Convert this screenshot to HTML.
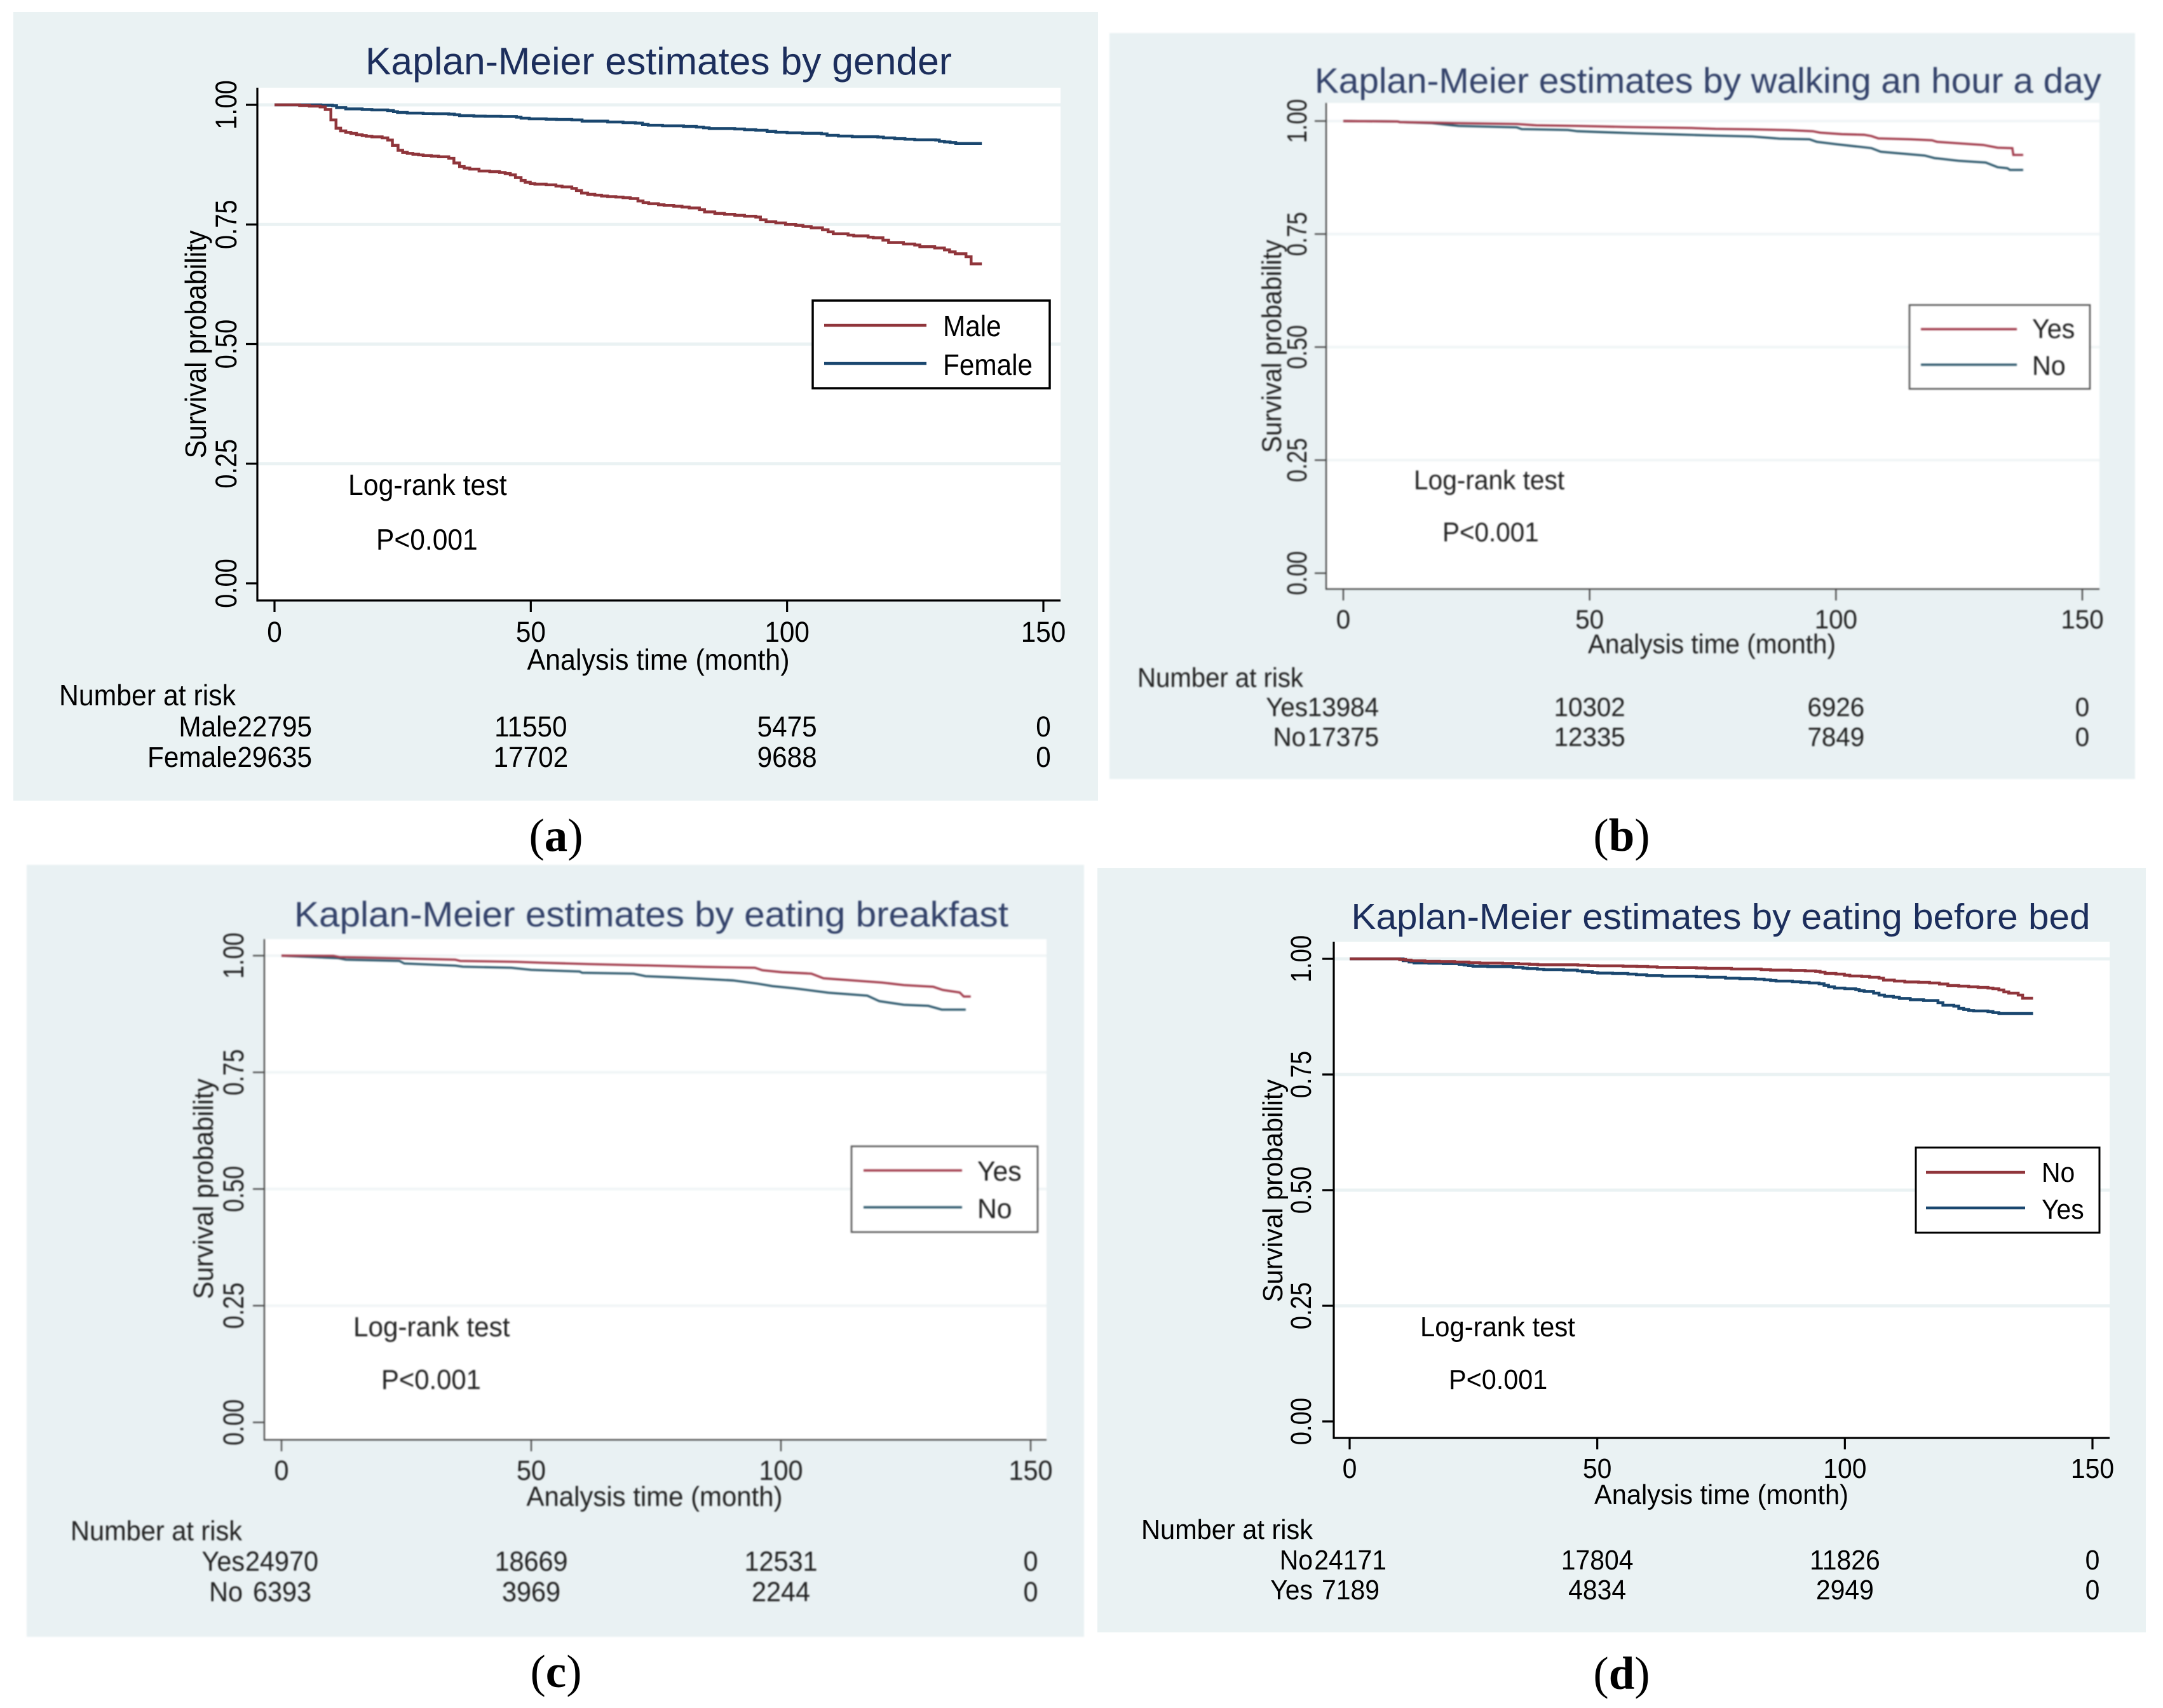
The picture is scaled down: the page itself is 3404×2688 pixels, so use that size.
<!DOCTYPE html>
<html lang="en">
<head>
<meta charset="utf-8">
<title>Kaplan-Meier estimates</title>
<style>
html,body{margin:0;padding:0;background:#fff;}
svg{display:block;}
text{font-family:"Liberation Sans",Arial,sans-serif;}
.cap text,text.cap{font-family:"Liberation Serif",serif;}
.soft{filter:blur(1px);}
</style>
</head>
<body>
<svg id="figure" xmlns="http://www.w3.org/2000/svg" width="3404" height="2688" viewBox="0 0 3404 2688">
<rect x="0" y="0" width="3404" height="2688" fill="#ffffff"/>

<!-- Panel A -->
<g id="panel-a">
  <rect x="21" y="19" width="1707" height="1241" fill="#eaf2f3"/>
  <rect x="405" y="138" width="1264" height="807" fill="#ffffff"/>
  <g id="marks-a"></g>
  <text x="1036.5" y="117" font-size="60" fill="#1c2e5c" text-anchor="middle" textLength="923" lengthAdjust="spacingAndGlyphs">Kaplan-Meier estimates by gender</text>
  <text transform="translate(324 542) rotate(-90) scale(0.93 1)" font-size="46" text-anchor="middle">Survival probability</text>
  <text x="1036" y="1054" font-size="46" text-anchor="middle" textLength="413" lengthAdjust="spacingAndGlyphs">Analysis time (month)</text>
  <text transform="translate(548 779) scale(0.93 1)" font-size="46">Log-rank test</text>
  <text transform="translate(592 865) scale(0.925 1)" font-size="46">P&lt;0.001</text>
  <text x="93" y="1110" font-size="46" textLength="278" lengthAdjust="spacingAndGlyphs">Number at risk</text>
  <g>
    <rect x="1279" y="473" width="373" height="138" fill="#fff" stroke="#000" stroke-width="3.5"/>
    <line x1="1297" x2="1458" y1="512" y2="512" stroke="#90353b" stroke-width="4.5"/>
    <line x1="1297" x2="1458" y1="572" y2="572" stroke="#1a476f" stroke-width="4.5"/>
    <text transform="translate(1484 529) scale(0.92 1)" font-size="46">Male</text>
    <text transform="translate(1484 590) scale(0.92 1)" font-size="46">Female</text>
  </g>
  <text class="cap" x="875" y="1339" font-size="73" text-anchor="middle">(<tspan font-weight="bold">a</tspan>)</text>
</g>

<!-- Panel B -->
<g>
  <text class="cap" x="2552" y="1339" font-size="73" text-anchor="middle">(<tspan font-weight="bold">b</tspan>)</text>
</g>
<g id="panel-b" class="soft">
  <rect x="1746" y="52" width="1614" height="1174" fill="#e9f1f3"/>
  <rect x="2087" y="162" width="1217" height="765" fill="#ffffff"/>
  <g id="marks-b"></g>
  <text x="2688" y="146" font-size="56" fill="#33426a" text-anchor="middle" textLength="1238" lengthAdjust="spacingAndGlyphs">Kaplan-Meier estimates by walking an hour a day</text>
  <text transform="translate(2016 545) rotate(-90) scale(0.93 1)" font-size="43" fill="#222" text-anchor="middle">Survival probability</text>
  <text x="2694" y="1028" font-size="43" fill="#222" text-anchor="middle" textLength="390" lengthAdjust="spacingAndGlyphs">Analysis time (month)</text>
  <text transform="translate(2225 770) scale(0.945 1)" font-size="43" fill="#222">Log-rank test</text>
  <text transform="translate(2270 852) scale(0.94 1)" font-size="43" fill="#222">P&lt;0.001</text>
  <text x="1790" y="1081" font-size="43" fill="#222" textLength="261" lengthAdjust="spacingAndGlyphs">Number at risk</text>
  <g>
    <rect x="3005" y="480" width="284" height="132" fill="#fff" stroke="#555" stroke-width="2.5"/>
    <line x1="3023" x2="3174" y1="518" y2="518" stroke="#a23c4c" stroke-width="3.6"/>
    <line x1="3023" x2="3174" y1="574" y2="574" stroke="#2f5a6e" stroke-width="3.6"/>
    <text transform="translate(3198 532) scale(0.96 1)" font-size="43" fill="#222">Yes</text>
    <text transform="translate(3198 590) scale(0.96 1)" font-size="43" fill="#222">No</text>
  </g>
</g>

<!-- Panel C -->
<g>
  <text class="cap" x="875" y="2655" font-size="73" text-anchor="middle">(<tspan font-weight="bold">c</tspan>)</text>
</g>
<g id="panel-c" class="soft">
  <rect x="42" y="1361" width="1664" height="1215" fill="#e9f1f3"/>
  <rect x="416" y="1478" width="1231" height="788" fill="#ffffff"/>
  <g id="marks-c"></g>
  <text x="1025" y="1458" font-size="56" fill="#33426a" text-anchor="middle" textLength="1124" lengthAdjust="spacingAndGlyphs">Kaplan-Meier estimates by eating breakfast</text>
  <text transform="translate(335 1871) rotate(-90) scale(0.94 1)" font-size="44" fill="#222" text-anchor="middle">Survival probability</text>
  <text x="1030" y="2370" font-size="44" fill="#222" text-anchor="middle" textLength="403" lengthAdjust="spacingAndGlyphs">Analysis time (month)</text>
  <text transform="translate(556 2103) scale(0.96 1)" font-size="44" fill="#222">Log-rank test</text>
  <text transform="translate(600 2186) scale(0.95 1)" font-size="44" fill="#222">P&lt;0.001</text>
  <text x="111" y="2424" font-size="44" fill="#222" textLength="270" lengthAdjust="spacingAndGlyphs">Number at risk</text>
  <g>
    <rect x="1340" y="1804" width="293" height="135" fill="#fff" stroke="#555" stroke-width="2.5"/>
    <line x1="1359" x2="1514" y1="1842" y2="1842" stroke="#a23c4c" stroke-width="3.6"/>
    <line x1="1359" x2="1514" y1="1900" y2="1900" stroke="#2f5a6e" stroke-width="3.6"/>
    <text transform="translate(1538 1858) scale(0.97 1)" font-size="44" fill="#222">Yes</text>
    <text transform="translate(1538 1917) scale(0.97 1)" font-size="44" fill="#222">No</text>
  </g>
</g>

<!-- Panel D -->
<g id="panel-d">
  <rect x="1727" y="1366" width="1650" height="1203" fill="#eaf2f3"/>
  <rect x="2099" y="1482" width="1221" height="781" fill="#ffffff"/>
  <g id="marks-d"></g>
  <text x="2708" y="1462" font-size="57" fill="#1c2e5c" text-anchor="middle" textLength="1163" lengthAdjust="spacingAndGlyphs">Kaplan-Meier estimates by eating before bed</text>
  <text transform="translate(2018 1874) rotate(-90) scale(0.95 1)" font-size="44" text-anchor="middle">Survival probability</text>
  <text x="2709" y="2367" font-size="44" text-anchor="middle" textLength="400" lengthAdjust="spacingAndGlyphs">Analysis time (month)</text>
  <text transform="translate(2235 2103) scale(0.95 1)" font-size="44">Log-rank test</text>
  <text transform="translate(2280 2186) scale(0.94 1)" font-size="44">P&lt;0.001</text>
  <text x="1796" y="2422" font-size="44" textLength="270" lengthAdjust="spacingAndGlyphs">Number at risk</text>
  <g>
    <rect x="3015" y="1806" width="289" height="134" fill="#fff" stroke="#000" stroke-width="3"/>
    <line x1="3031" x2="3187" y1="1845" y2="1845" stroke="#90353b" stroke-width="4.5"/>
    <line x1="3031" x2="3187" y1="1901" y2="1901" stroke="#1a476f" stroke-width="4.5"/>
    <text transform="translate(3213 1860) scale(0.93 1)" font-size="44">No</text>
    <text transform="translate(3213 1918) scale(0.93 1)" font-size="44">Yes</text>
  </g>
  <text class="cap" x="2552" y="2658" font-size="73" text-anchor="middle">(<tspan font-weight="bold">d</tspan>)</text>
</g>
</svg>

<script>
const xTicks = [0, 50, 100, 150];
const yTicks = [0, 0.25, 0.5, 0.75, 1];
const yTickLabels = ['0.00', '0.25', '0.50', '0.75', '1.00'];
const gridValues = [0.25, 0.5, 0.75, 1];

const maleMonths = [0,4.9,6.8,8.9,9.9,11,12,12.9,13.9,14.9,16,17.1,17.9,19,21,22.1,23,24.1,25,25.9,27,28.1,29,30.6,32,34,35,36.1,37,38.1,39.9,42,43.9,45,46,47,48.1,48.9,49.9,50.8,53,54.9,56.1,58,58.9,59.9,61.1,62.5,63.8,65,66.6,68,69.4,70.9,71.9,73,74.9,76,77.9,79.5,80.9,82.9,83.9,85.9,87.8,89.8,91.7,93.9,94.8,95.9,97.8,99.7,101.7,103.1,104.7,106.9,108,109,111.9,113,115.8,116.8,118.7,119.8,122.7,124.9,125.9,128.8,130.7,131.7,132.8,134.9,135.9,138];
const maleSurvival = [1,.9987,.9973,.9956,.9902,.9685,.9512,.9455,.9424,.9402,.9375,.9357,.9344,.9331,.9309,.9264,.9153,.9051,.9007,.8985,.8967,.8954,.8941,.8927,.8914,.8883,.8785,.871,.8679,.8657,.8617,.8604,.8586,.8564,.8537,.848,.8418,.8382,.8355,.8342,.8329,.8302,.8285,.8254,.8209,.8156,.8129,.8112,.8094,.8081,.8072,.8059,.8041,.7992,.7957,.7934,.7912,.7899,.7881,.7863,.7846,.781,.7762,.773,.7713,.7691,.7673,.7655,.7598,.7558,.7531,.75,.7482,.7456,.7429,.7389,.7345,.7305,.7278,.7261,.7234,.7221,.7172,.7123,.7092,.707,.7035,.7008,.6968,.6928,.6888,.6826,.6676,.6676];
const femaleMonths = [0,9.05,11.3,12.1,13.9,17.1,19,22.1,23.2,24,25.9,29,31,34,35.1,36.1,38.9,41.1,44.2,47.2,48.1,49.7,53,55,58,60,65,68,70.4,71.8,72.9,75.7,79.8,82.3,83.7,84.8,89.8,91.7,93.9,96.1,97.8,100,103,106.7,107.8,110,112.7,117.7,118.8,121,123,124.9,129,129.7,130.7,131.8,132.9,138];
const femaleSurvival = [1,.9991,.9982,.9942,.9916,.9902,.9894,.988,.9858,.984,.9827,.9818,.9814,.9805,.9792,.9774,.9765,.9761,.9756,.9743,.9721,.9707,.9699,.9694,.9685,.9659,.9641,.9628,.9619,.9592,.9574,.9561,.9548,.9535,.9521,.9504,.9495,.9481,.9468,.9446,.9428,.9415,.9406,.9393,.9362,.9348,.9335,.9326,.9309,.9295,.9282,.9269,.9264,.9238,.9224,.9211,.9193,.9193];

const walkYesMonths = [0,11,11.5,18,22.9,35.2,39.2,47.5,57.4,70.7,75.6,83,90.4,95.3,96.8,101.2,105.7,107.2,108.6,115.1,119.5,120.5,124.9,129.9,132.8,135.8,136,138];
const walkYesSurvival = [1,.999,.9977,.9963,.9953,.9934,.9906,.9892,.9869,.9846,.9827,.9817,.9799,.9775,.9743,.971,.9696,.9668,.9616,.9597,.9574,.9541,.9508,.9471,.941,.9401,.9251,.9251];
const walkNoMonths = [0,11,11.5,18,23.4,35.2,36.2,45.6,47.5,59.4,67.3,75.6,83,88.5,94.6,96.1,100.3,107.2,109.1,118,120,124.9,130.4,132.8,134.8,135.3,138];
const walkNoSurvival = [1,.999,.9977,.9953,.9892,.986,.9822,.9803,.9775,.9728,.9705,.9677,.9658,.9611,.9597,.9541,.9485,.9401,.9321,.9237,.9181,.912,.9082,.8979,.8956,.8919,.8919];

const breakfastYesMonths = [0,10.4,11.6,16.3,23.6,34.8,35.8,47,51.9,61.7,74.8,84.6,94.8,96.3,100.2,106.1,108.5,120.2,124.6,130.5,132.4,135.8,136.6,138];
const breakfastYesSurvival = [1,.9995,.9968,.9959,.9941,.9914,.9887,.9868,.985,.9819,.9787,.976,.9741,.9687,.9646,.9615,.9515,.9424,.937,.9333,.9265,.9211,.9125,.9125];
const breakfastNoMonths = [0,11.4,12.9,23.6,24.6,34.8,36.3,46,50,59.7,60.2,70.5,72.9,78.2,84.1,90.4,95.3,98.3,102.6,109.5,117.3,119.7,124.6,129.5,132.2,137];
const breakfastNoSurvival = [1,.9946,.9914,.9887,.9832,.9787,.9764,.9741,.9696,.966,.9633,.9615,.956,.9537,.9506,.9469,.9401,.9347,.9302,.9206,.9143,.9025,.8948,.8925,.8844,.8844];

const bedNoMonths = [0,10.1,11.3,12.4,15.2,18.1,21.2,24.1,26.3,30.9,34.1,36.3,38,46.1,48.2,50.1,55.2,58,60.2,62.1,66.1,70,71.9,77.1,83.1,85,89.1,92,94.1,95,96,98.2,99.9,101,103.4,105,106.9,107.8,110,112.1,114.9,117.1,119.1,120.8,123,125,126.9,128.9,129.9,131.1,132.1,133.1,135,135.9,138];
const bedNoSurvival = [1,.9986,.9973,.9959,.9945,.994,.9931,.9918,.9908,.9899,.989,.9881,.9872,.9863,.9853,.9849,.984,.9835,.9826,.9817,.9812,.9803,.9794,.978,.9766,.9757,.9748,.9739,.973,.9712,.9684,.967,.9647,.9629,.962,.9602,.9583,.9542,.9519,.9501,.9492,.9478,.9455,.9423,.9409,.9396,.9382,.9368,.9354,.9327,.9286,.9258,.9217,.9148,.9148];
const bedYesMonths = [0,10.8,12,13,16,18.9,22.1,23.1,24,24.9,27.9,33,35,35.9,37.9,39.2,43.2,46,47,49,50.1,53.1,56.2,57.9,60,63.1,70,72.3,75.9,78.8,81.9,83.7,85,86.1,89.4,91.1,92.8,94.8,95.8,96.7,97.9,100,102.2,102.9,103.9,105.8,106.9,108,109.8,111,113.2,115.9,118.8,119.8,122,123,124,125,126,128.9,129.9,131.1,138];
const bedYesSurvival = [1,.9959,.9931,.9913,.9908,.9895,.9881,.9867,.9853,.984,.9831,.9817,.9799,.9789,.9776,.9766,.9757,.9739,.9721,.9703,.9693,.9684,.967,.9657,.9638,.9625,.9615,.9602,.9583,.957,.956,.9547,.9533,.9519,.9505,.9492,.9478,.946,.9428,.9396,.9368,.9354,.9336,.9313,.9295,.9258,.9217,.919,.9171,.9144,.9116,.9098,.9052,.8997,.8979,.8929,.8906,.8883,.8874,.886,.8837,.8819,.8819];

const genderRiskMale = ['22795', '11550', '5475', '0'];
const genderRiskFemale = ['29635', '17702', '9688', '0'];
const walkRiskYes = ['13984', '10302', '6926', '0'];
const walkRiskNo = ['17375', '12335', '7849', '0'];
const breakfastRiskYes = ['24970', '18669', '12531', '0'];
const breakfastRiskNo = ['6393', '3969', '2244', '0'];
const bedRiskNo = ['24171', '17804', '11826', '0'];
const bedRiskYes = ['7189', '4834', '2949', '0'];

const NS = 'http://www.w3.org/2000/svg';

const panels = [
  { key: 'a', slug: 'gender', x0: 432, x150: 1642, y1: 165, y00: 918, left: 405, right: 1669, top: 138, bottom: 945,
    axisColor: '#000', axisWidth: 3.2, gridColor: '#eaf2f3', gridWidth: 5, lineWidth: 4.5, textColor: '#000', smooth: false,
    yTickBase: 372, yTickFont: 47, yTickSx: 0.85, xTickBase: 1010, tickFont: 45, tickSx: 0.94,
    rowBases: [1159, 1207], labelEnds: [373, 373], numEnds: [491, 491],
    series: [
      { name: 'female', months: femaleMonths, survival: femaleSurvival, color: '#1a476f' },
      { name: 'male', months: maleMonths, survival: maleSurvival, color: '#90353b' }
    ],
    rows: [
      { label: 'Male', values: genderRiskMale },
      { label: 'Female', values: genderRiskFemale }
    ] },
  { key: 'b', slug: 'walking', x0: 2114, x150: 3277, y1: 190.5, y00: 902, left: 2087, right: 3304, top: 162, bottom: 927,
    axisColor: '#444', axisWidth: 2.2, gridColor: '#f0f5f6', gridWidth: 4, lineWidth: 3.4, textColor: '#222', smooth: true,
    yTickBase: 2056, yTickFont: 44, yTickSx: 0.81, xTickBase: 989, tickFont: 42, tickSx: 0.96,
    rowBases: [1127, 1174], labelEnds: [2058, 2055], numEnds: [2170, 2170],
    series: [
      { name: 'no', months: walkNoMonths, survival: walkNoSurvival, color: '#2f5a6e' },
      { name: 'yes', months: walkYesMonths, survival: walkYesSurvival, color: '#a23c4c' }
    ],
    rows: [
      { label: 'Yes', values: walkRiskYes },
      { label: 'No', values: walkRiskNo }
    ] },
  { key: 'c', slug: 'breakfast', x0: 443, x150: 1622, y1: 1504, y00: 2238.5, left: 416, right: 1647, top: 1478, bottom: 2266,
    axisColor: '#444', axisWidth: 2.2, gridColor: '#f0f5f6', gridWidth: 4, lineWidth: 3.4, textColor: '#222', smooth: true,
    yTickBase: 383, yTickFont: 45, yTickSx: 0.83, xTickBase: 2329, tickFont: 44, tickSx: 0.94,
    rowBases: [2472, 2520], labelEnds: [385, 382], numEnds: [501, 490],
    series: [
      { name: 'no', months: breakfastNoMonths, survival: breakfastNoSurvival, color: '#2f5a6e' },
      { name: 'yes', months: breakfastYesMonths, survival: breakfastYesSurvival, color: '#a23c4c' }
    ],
    rows: [
      { label: 'Yes', values: breakfastRiskYes },
      { label: 'No', values: breakfastRiskNo }
    ] },
  { key: 'd', slug: 'before-bed', x0: 2124, x150: 3293, y1: 1509, y00: 2237, left: 2099, right: 3320, top: 1482, bottom: 2263,
    axisColor: '#000', axisWidth: 3.2, gridColor: '#eaf2f3', gridWidth: 5, lineWidth: 4.5, textColor: '#000', smooth: false,
    yTickBase: 2063, yTickFont: 45, yTickSx: 0.85, xTickBase: 2326, tickFont: 44, tickSx: 0.93,
    rowBases: [2470, 2517], labelEnds: [2066, 2066], numEnds: [2182, 2171],
    series: [
      { name: 'yes', months: bedYesMonths, survival: bedYesSurvival, color: '#1a476f' },
      { name: 'no', months: bedNoMonths, survival: bedNoSurvival, color: '#90353b' }
    ],
    rows: [
      { label: 'No', values: bedRiskNo },
      { label: 'Yes', values: bedRiskYes }
    ] }
];

function makeLine(parent, x1, y1, x2, y2, color, width) {
  const el = document.createElementNS(NS, 'line');
  el.setAttribute('x1', x1);
  el.setAttribute('y1', y1);
  el.setAttribute('x2', x2);
  el.setAttribute('y2', y2);
  el.setAttribute('stroke', color);
  el.setAttribute('stroke-width', width);
  parent.appendChild(el);
  return el;
}

function makeText(parent, str, transform, size, anchor, color) {
  const el = document.createElementNS(NS, 'text');
  el.setAttribute('transform', transform);
  el.setAttribute('font-size', size);
  el.setAttribute('text-anchor', anchor);
  el.setAttribute('fill', color);
  el.textContent = str;
  parent.appendChild(el);
  return el;
}

function curvePath(months, survival, xScale, yScale, smooth) {
  const n = Math.min(months.length, survival.length);
  let d = 'M' + xScale(months[0]) + ' ' + yScale(survival[0]);
  for (let i = 1; i < n; i++) {
    const px = xScale(months[i]).toFixed(2);
    const py = yScale(survival[i]).toFixed(2);
    d += smooth ? ('L' + px + ' ' + py) : ('H' + px + 'V' + py);
  }
  return d;
}

panels.forEach(function (p) {
  const g = document.getElementById('marks-' + p.key);
  const xScale = function (t) { return p.x0 + (t / 150) * (p.x150 - p.x0); };
  const yScale = function (s) { return p.y00 + s * (p.y1 - p.y00); };

  gridValues.forEach(function (v) {
    const el = makeLine(g, p.left, yScale(v), p.right, yScale(v), p.gridColor, p.gridWidth);
    
    
  });

  p.series.forEach(function (s) {
    const el = document.createElementNS(NS, 'path');
    el.setAttribute('d', curvePath(s.months, s.survival, xScale, yScale, p.smooth));
    el.setAttribute('fill', 'none');
    el.setAttribute('stroke', s.color);
    el.setAttribute('stroke-width', p.lineWidth);
    el.setAttribute('stroke-linejoin', 'miter');
    
    
    g.appendChild(el);
  });

  const yAxis = makeLine(g, p.left, p.top, p.left, p.bottom + p.axisWidth / 2, p.axisColor, p.axisWidth);
  
  
  const xAxis = makeLine(g, p.left, p.bottom, p.right, p.bottom, p.axisColor, p.axisWidth);
  
  

  yTicks.forEach(function (v, i) {
    const tick = makeLine(g, p.left - 18, yScale(v), p.left, yScale(v), p.axisColor, p.axisWidth);
    
    
    const tf = 'translate(' + p.yTickBase + ' ' + yScale(v) + ') rotate(-90) scale(' + p.yTickSx + ' 1)';
    const label = makeText(g, yTickLabels[i], tf, p.yTickFont, 'middle', p.textColor);
    
    
  });

  xTicks.forEach(function (v) {
    const tick = makeLine(g, xScale(v), p.bottom, xScale(v), p.bottom + 18, p.axisColor, p.axisWidth);
    
    
    const tf = 'translate(' + xScale(v) + ' ' + p.xTickBase + ') scale(' + p.tickSx + ' 1)';
    const label = makeText(g, String(v), tf, p.tickFont, 'middle', p.textColor);
    
    
  });

  p.rows.forEach(function (row, r) {
    const base = p.rowBases[r];
    const rowTf = 'translate(' + p.labelEnds[r] + ' ' + base + ') scale(' + p.tickSx + ' 1)';
    const rowLabel = makeText(g, row.label, rowTf, p.tickFont, 'end', p.textColor);
    
    
    row.values.forEach(function (val, i) {
      const first = i === 0;
      const px = first ? p.numEnds[r] : xScale(xTicks[i]);
      const tf = 'translate(' + px + ' ' + base + ') scale(' + p.tickSx + ' 1)';
      const cell = makeText(g, val, tf, p.tickFont, first ? 'end' : 'middle', p.textColor);
      
      
    });
  });
});
</script>
</body>
</html>
